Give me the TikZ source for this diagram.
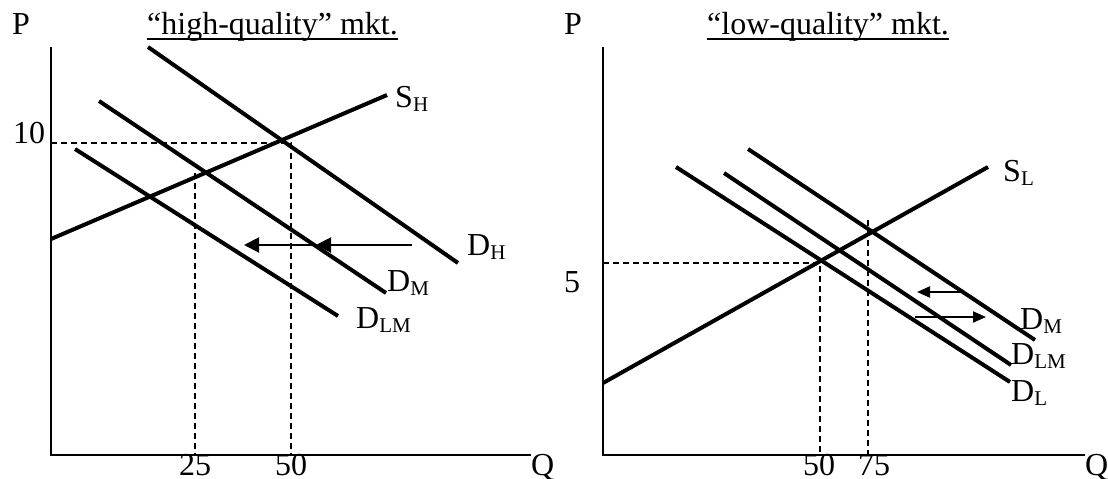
\documentclass[tikz,border=0pt]{standalone}
\usepackage{fontspec}
\setmainfont{Liberation Serif}
\usetikzlibrary{arrows.meta}
\newcommand\mysub[1]{\raisebox{-4pt}{\fontsize{21}{24}\selectfont #1}}
\begin{document}
\begin{tikzpicture}[x=1pt,y=-1pt,
  lbl/.style={font=\fontsize{32}{38}\selectfont, inner sep=0pt, anchor=base west},
  numlbl/.style={font=\fontsize{32}{38}\selectfont, inner sep=0pt, anchor=base},
  axis/.style={line width=2.3pt},
  curve/.style={line width=4pt},
  guide/.style={line width=2pt, dash pattern=on 6pt off 4pt},
  shiftbig/.style={line width=2pt, -{Triangle[length=15pt,width=15pt]}},
  shiftsmall/.style={line width=2pt, -{Triangle[length=13pt,width=11pt]}},
  uline/.style={line width=2pt}]
\useasboundingbox (0,0) rectangle (1108,479);

% ---------------- left panel ----------------
\node[lbl] (PH) at (12,34) {P};
\node[lbl] (titleH) at (147,34) {“high-quality” mkt.};
\draw[uline] ([yshift=-5pt]titleH.base west) -- ([yshift=-5pt]titleH.base east);

\coordinate (aTopH) at (51,47);
\coordinate (aOrgH) at (51,455);
\coordinate (aEndH) at (531,455);
\draw[axis] (aTopH) -- (aOrgH) -- (aEndH);
\node[lbl] (QH) at (531,475) {Q};

\coordinate (sh1) at (51,239);   \coordinate (sh2) at (387,95);
\coordinate (dh1) at (148,47);   \coordinate (dh2) at (458,263);
\coordinate (dm1) at (99,101);   \coordinate (dm2) at (386,293);
\coordinate (dlm1) at (75,149);  \coordinate (dlm2) at (338,316);
\draw[curve] (sh1) -- (sh2);
\draw[curve] (dh1) -- (dh2);
\draw[curve] (dm1) -- (dm2);
\draw[curve] (dlm1) -- (dlm2);

\node[lbl] (SHl) at (395,107) {S\mysub{H}};
\node[lbl] (DHl) at (467,255) {D\mysub{H}};
\node[lbl] (DMl) at (387,291) {D\mysub{M}};
\node[lbl] (DLMl) at (356,328) {D\mysub{LM}};

\coordinate (p10) at (51,143);
\coordinate (c50) at (291,143);
\coordinate (b50) at (291,455);
\coordinate (c25) at (195,173);
\coordinate (b25) at (195,455);
\draw[guide] (p10) -- (c50) -- (b50);
\draw[guide] (c25) -- (b25);
\node[lbl] (ten) at (13,143) {10};
\node[numlbl] (q25) at (195,475) {25};
\node[numlbl] (q50) at (291,475) {50};

\coordinate (arA) at (412,245);
\coordinate (arB) at (316,245);
\coordinate (arC) at (244,245);
\draw[shiftbig] (arA) -- (arB);
\draw[shiftbig] (arB) -- (arC);

% ---------------- right panel ----------------
\node[lbl] (PL) at (564,34) {P};
\node[lbl] (titleL) at (707,34) {“low-quality” mkt.};
\draw[uline] ([yshift=-5pt]titleL.base west) -- ([yshift=-5pt]titleL.base east);

\coordinate (aTopL) at (603,47);
\coordinate (aOrgL) at (603,455);
\coordinate (aEndL) at (1085,455);
\draw[axis] (aTopL) -- (aOrgL) -- (aEndL);
\node[lbl] (QL) at (1085,475) {Q};

\coordinate (sl1) at (603,383);  \coordinate (sl2) at (988,167);
\coordinate (dl1) at (676,167);  \coordinate (dl2) at (1010,382);
\coordinate (dlmb1) at (724,173); \coordinate (dlmb2) at (1011,365);
\coordinate (dmb1) at (748,149); \coordinate (dmb2) at (1035,340);
\draw[curve] (sl1) -- (sl2);
\draw[curve] (dl1) -- (dl2);
\draw[curve] (dlmb1) -- (dlmb2);
\draw[curve] (dmb1) -- (dmb2);

\node[lbl] (SLl) at (1003,181) {S\mysub{L}};
\node[lbl] (DMr) at (1020,329) {D\mysub{M}};
\node[lbl] (DLMr) at (1011,364) {D\mysub{LM}};
\node[lbl] (DLr) at (1011,401) {D\mysub{L}};

\coordinate (p5) at (603,263);
\coordinate (c50L) at (820,263);
\coordinate (b50L) at (820,455);
\coordinate (c75) at (868,220);
\coordinate (b75) at (868,455);
\draw[guide] (p5) -- (c50L) -- (b50L);
\draw[guide] (c75) -- (b75);
\node[lbl] (five) at (564,292) {5};
\node[numlbl] (q50L) at (819,475) {50};
\node[numlbl] (q75) at (874,475) {75};

\coordinate (lA) at (962,292);
\coordinate (lB) at (917,292);
\coordinate (rA) at (915,317);
\coordinate (rB) at (986,317);
\draw[shiftsmall] (lA) -- (lB);
\draw[shiftsmall] (rA) -- (rB);
\end{tikzpicture}
\end{document}
